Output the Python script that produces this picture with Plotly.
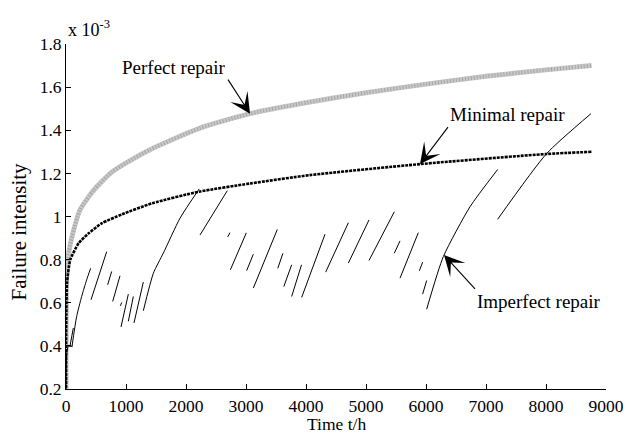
import plotly.graph_objects as go

# ---- data (failure intensity in units of 1e-3) ----
perfect_t = [0, 2, 8, 17, 50, 100, 233, 456, 767, 1011, 1400, 2233, 3067, 3900, 5000, 6000, 7000, 8000, 8760]
perfect_y = [0.0, 0.5, 0.68, 0.78, 0.84, 0.907, 1.03, 1.12, 1.207, 1.25, 1.31, 1.41, 1.477, 1.523, 1.574, 1.614, 1.650, 1.680, 1.70]

minimal_t = [0, 1, 5, 17, 72, 211, 378, 600, 933, 1433, 2217, 3067, 4067, 5900, 8011, 8760]
minimal_y = [0.0, 0.42, 0.55, 0.69, 0.80, 0.876, 0.922, 0.969, 1.01, 1.061, 1.115, 1.153, 1.192, 1.243, 1.29, 1.30]

imperfect_segments = [
    [(0, 0.0), (3, 0.30), (15, 0.37), (35, 0.40)],
    [(40, 0.398), (110, 0.398)],
    [(67, 0.40), (122, 0.483)],
    [(100, 0.398), (178, 0.537), (261, 0.629), (344, 0.706), (411, 0.760)],
    [(417, 0.614), (678, 0.837)],
    [(694, 0.683), (761, 0.745)],
    [(778, 0.606), (900, 0.725)],
    [(905, 0.586), (928, 0.601)],
    [(917, 0.488), (1039, 0.640)],
    [(1039, 0.514), (1122, 0.629)],
    [(1133, 0.506), (1289, 0.696)],
    [(1289, 0.563), (1456, 0.737), (1622, 0.830), (1900, 0.992), (2220, 1.128)],
    [(2233, 0.914), (2689, 1.120)],
    [(2694, 0.905), (2733, 0.925)],
    [(2740, 0.753), (3005, 0.924)],
    [(3011, 0.749), (3122, 0.825)],
    [(3122, 0.668), (3522, 0.940)],
    [(3530, 0.760), (3615, 0.829)],
    [(3630, 0.675), (3761, 0.776)],
    [(3761, 0.629), (3925, 0.776)],
    [(3928, 0.625), (4317, 0.918)],
    [(4328, 0.742), (4706, 0.971)],
    [(4706, 0.784), (5050, 0.984)],
    [(5050, 0.796), (5472, 1.022)],
    [(5472, 0.830), (5567, 0.887)],
    [(5567, 0.714), (5872, 0.925)],
    [(5889, 0.748), (5944, 0.788)],
    [(5944, 0.640), (6011, 0.703)],
    [(6011, 0.570), (6289, 0.814), (6733, 1.045), (7194, 1.218)],
    [(7194, 0.987), (8011, 1.292), (8750, 1.477)],
]

x_ticks = [0, 1000, 2000, 3000, 4000, 5000, 6000, 7000, 8000, 9000]
y_ticks = [0.2, 0.4, 0.6, 0.8, 1.0, 1.2, 1.4, 1.6, 1.8]
y_tick_labels = ["0.2", "0.4", "0.6", "0.8", "1", "1.2", "1.4", "1.6", "1.8"]

labels = {"perfect": "Perfect repair", "minimal": "Minimal repair", "imperfect": "Imperfect repair"}
arrow_tips = {"perfect": (3067, 1.477), "minimal": (5900, 1.243), "imperfect": (6300, 0.822)}

FONT = "Liberation Serif, serif"

# imperfect repair trace with gaps
imp_x, imp_y = [], []
for seg in imperfect_segments:
    for t, v in seg:
        imp_x.append(t)
        imp_y.append(v)
    imp_x.append(None)
    imp_y.append(None)

fig = go.Figure()
fig.add_trace(go.Scatter(x=perfect_t, y=perfect_y, mode="lines", line=dict(color="#c8c8c8", width=5, shape="spline", smoothing=0.6), showlegend=False, hoverinfo="skip"))
fig.add_trace(go.Scatter(x=perfect_t, y=perfect_y, mode="lines", line=dict(color="#a6a6a6", width=4, dash="1px,2px", shape="spline", smoothing=0.6), showlegend=False, hoverinfo="skip"))
fig.add_trace(go.Scatter(x=minimal_t, y=minimal_y, mode="lines", line=dict(color="black", width=2.6, dash="3px,1px", shape="spline", smoothing=0.6), showlegend=False, hoverinfo="skip"))
fig.add_trace(go.Scatter(x=imp_x, y=imp_y, mode="lines", connectgaps=False, line=dict(color="black", width=1.0, shape="spline", smoothing=0.6), showlegend=False, hoverinfo="skip"))

axis_common = dict(showline=True, linecolor="black", linewidth=1, ticks="inside", ticklen=5,
                   tickcolor="black", showgrid=False, zeroline=False, mirror=False, automargin=False,
                   tickfont=dict(family=FONT, size=17.5, color="black"))

fig.update_xaxes(range=[0, 9000], tickvals=x_ticks, ticktext=[str(v) for v in x_ticks],
                 ticklabelstandoff=1, **axis_common)
fig.update_yaxes(range=[0.2, 1.8], tickvals=y_ticks, ticktext=y_tick_labels, **axis_common)

annotations = []
# tail offsets (px) from tip, and which corner of the label box sits at the tail
arrow_offsets = {"perfect": (-22, -34), "minimal": (28, -37), "imperfect": (31, 34)}
box_anchor = {"perfect": ("right", "bottom"), "minimal": ("left", "bottom"), "imperfect": ("left", "top")}
for key in ["perfect", "minimal", "imperfect"]:
    tx, ty = arrow_tips[key]
    ax, ay = arrow_offsets[key]
    xa, ya = box_anchor[key]
    annotations.append(dict(x=tx, y=ty, xref="x", yref="y", text=labels[key], showarrow=True,
                            arrowhead=3, arrowsize=3.1, arrowwidth=1.1, arrowcolor="black",
                            ax=ax, ay=ay, xanchor=xa, yanchor=ya,
                            font=dict(family=FONT, size=19, color="black")))

annotations.append(dict(x=0, y=1.045, xref="paper", yref="paper", text="x 10<sup>-3</sup>",
                        showarrow=False, xanchor="left", yanchor="middle",
                        font=dict(family=FONT, size=18, color="black")))
annotations.append(dict(x=0.5, y=(389.5 - 437) / 346, xref="paper", yref="paper", text="Time t/h",
                        showarrow=False, xanchor="center", yanchor="bottom",
                        font=dict(family=FONT, size=17.5, color="black")))
annotations.append(dict(x=-(66 - 19) / 540, y=(389.5 - 231.5) / 346, xref="paper", yref="paper",
                        text="Failure intensity",
                        showarrow=False, xanchor="center", yanchor="middle", textangle=-90,
                        font=dict(family=FONT, size=21, color="black")))

fig.update_layout(template="none", width=626, height=437, margin=dict(l=66, r=20, t=43.5, b=47.5),
                  paper_bgcolor="white", plot_bgcolor="white", annotations=annotations,
                  showlegend=False)

fig.write_html("out.html", config={"displayModeBar": False},
               post_script="document.body.style.margin='0';document.documentElement.style.overflow='hidden';")
